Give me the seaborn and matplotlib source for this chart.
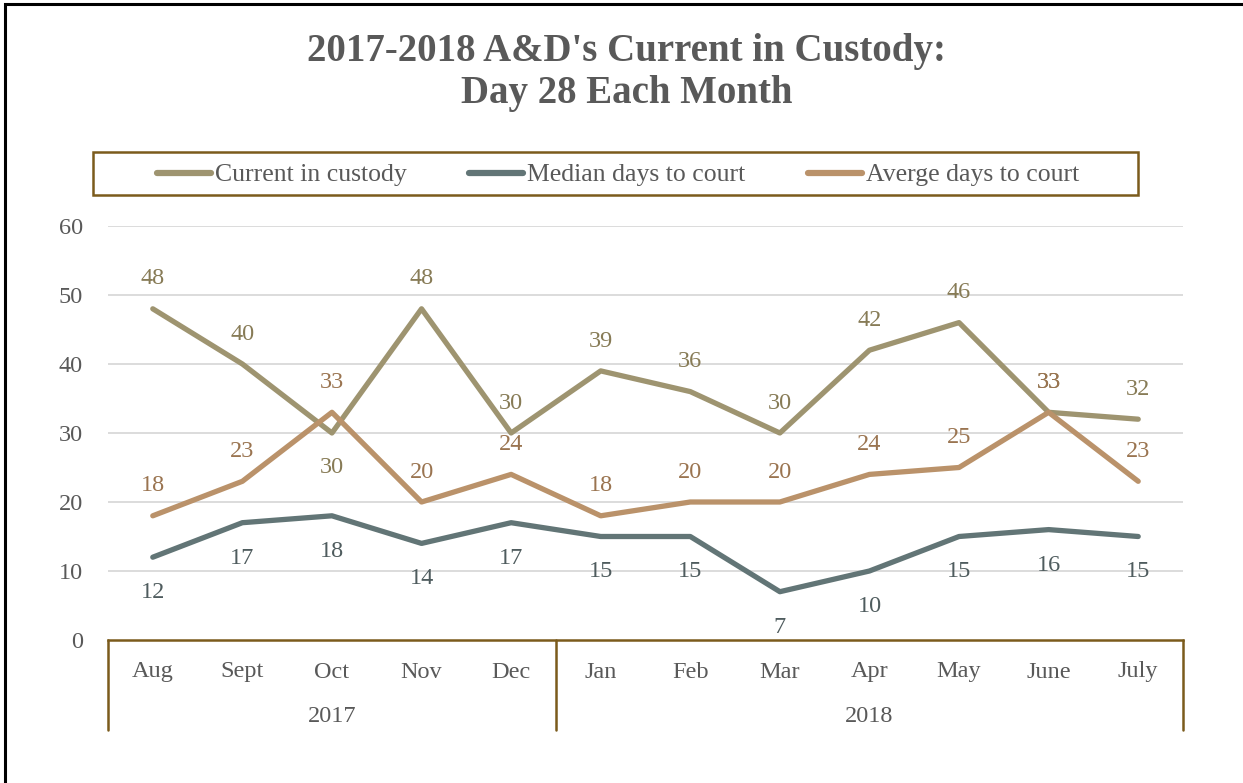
import matplotlib
matplotlib.use("Agg")
import matplotlib.pyplot as plt
import matplotlib.transforms as mtransforms
from matplotlib.patches import Rectangle
from matplotlib.lines import Line2D
import seaborn as sns
import pandas as pd

# --- data -------------------------------------------------------------
months = ["Aug", "Sept", "Oct", "Nov", "Dec", "Jan", "Feb", "Mar", "Apr", "May", "June", "July"]
years = ["2017", "2018"]
months_per_year = [5, 7]
series_names = ["Current in custody", "Median days to court", "Averge days to court"]
current_in_custody = [48, 40, 30, 48, 30, 39, 36, 30, 42, 46, 33, 32]
median_days = [12, 17, 18, 14, 17, 15, 15, 7, 10, 15, 16, 15]
average_days = [18, 23, 33, 20, 24, 18, 20, 20, 24, 25, 33, 23]
y_ticks = [0, 10, 20, 30, 40, 50, 60]

# --- styling ----------------------------------------------------------
line_colors = ["#9E9470", "#627576", "#BA926A"]
label_colors = ["#877B56", "#4F5C5E", "#9A7450"]
text_gray = "#595959"
frame_brown = "#7B5B1C"
grid_gray = "#D9D9D9"
FONT = ["Liberation Serif", "DejaVu Serif"]
FS = 17.5

sns.set_theme(style="white")
plt.rcParams["font.family"] = FONT

df = pd.concat([
    pd.DataFrame({"pos": range(len(months)), "value": vals, "series": name})
    for name, vals in zip(series_names, [current_in_custody, median_days, average_days])
], ignore_index=True)

fig = plt.figure(figsize=(12.43, 7.83), dpi=100)
ax = fig.add_axes([108 / 1243, 1 - 640 / 783, (1183 - 108) / 1243, (640 - 226) / 783])

for yv in y_ticks[1:]:
    ax.axhline(yv, color=grid_gray, lw=1.3, zorder=0)

sns.lineplot(data=df, x="pos", y="value", hue="series", hue_order=series_names,
             palette=line_colors, linewidth=3.8, legend=False, ax=ax, zorder=3,
             solid_capstyle="round", solid_joinstyle="round")

ax.set_xlim(-0.5, len(months) - 0.5)
ax.set_ylim(0, 60)
ax.set_yticks(y_ticks)
ax.set_yticklabels([str(v) for v in y_ticks], fontsize=FS, color=text_gray)
ax.tick_params(axis="y", length=0, pad=18)
ax.set_xticks([])
ax.set_xlabel("")
ax.set_ylabel("")
for side in ["left", "right", "top"]:
    ax.spines[side].set_visible(False)
ax.spines["bottom"].set_color(frame_brown)
ax.spines["bottom"].set_linewidth(1.8)
ax.spines["bottom"].set_zorder(4)

# data labels: current and average above, median below (Oct current below)
def put_labels(values, color, offsets):
    for i, v in enumerate(values):
        ax.annotate(str(v), (i, v), xytext=(0, offsets[i]), textcoords="offset points",
                    ha="center", va="center", fontsize=FS, color=color, zorder=5)

cur_off = [21.5] * len(months)
cur_off[2] = -24.5
put_labels(current_in_custody, label_colors[0], cur_off)
put_labels(median_days, label_colors[1], [-25.5] * len(months))
put_labels(average_days, label_colors[2], [21.5] * len(months))

# two-level category axis beneath the plot
trans = mtransforms.blended_transform_factory(ax.transData, ax.transAxes)
y_month = -32 / 414
y_year = -76 / 414
y_end = -90 / 414
for i, m in enumerate(months):
    ax.text(i, y_month, m, transform=trans, ha="center", va="center",
            fontsize=FS, color=text_gray)
bounds = [-0.5]
for n in months_per_year:
    bounds.append(bounds[-1] + n)
for b in bounds:
    ax.add_line(Line2D([b, b], [0, y_end], transform=trans, color=frame_brown,
                       lw=1.8, clip_on=False))
for yr, a, b in zip(years, bounds[:-1], bounds[1:]):
    ax.text((a + b) / 2, y_year, yr, transform=trans, ha="center", va="center",
            fontsize=FS, color=text_gray)

# title
fig.text(0.504, 1 - 51 / 783, "2017-2018 A&D's Current in Custody:", ha="center", va="center",
         fontsize=28, fontweight="bold", color=text_gray)
fig.text(0.504, 1 - 93 / 783, "Day 28 Each Month", ha="center", va="center",
         fontsize=28, fontweight="bold", color=text_gray)

# legend in a framed box
handles = [Line2D([], [], color=c, lw=4.5, solid_capstyle="round") for c in line_colors]
fig.legend(handles, series_names, loc="center", bbox_to_anchor=(618 / 1243, 1 - 175 / 783),
           ncol=3, frameon=False, fontsize=18.5, handlelength=2.1, handletextpad=0.15,
           columnspacing=2.45, labelcolor=text_gray)
fig.add_artist(Rectangle((93 / 1243, 1 - 195 / 783), (1138 - 93) / 1243, 43 / 783,
                         transform=fig.transFigure, fill=False, edgecolor=frame_brown, lw=1.8))

# outer border
fig.add_artist(Rectangle((5 / 1243, -0.1), 1.2, 1 - 4 / 783 + 0.1, transform=fig.transFigure,
                         fill=False, edgecolor="black", lw=2.2))

fig.savefig("out.png", dpi=100, facecolor="white")
